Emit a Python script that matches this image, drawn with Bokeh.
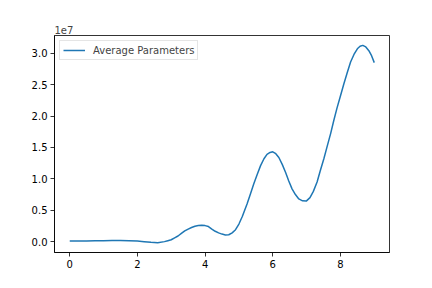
from bokeh.plotting import figure
from bokeh.models import Range1d, FixedTicker, CustomJSTickFormatter, Legend, LegendItem
from bokeh.embed import file_html
from bokeh.resources import INLINE

SCALE = 1e7
x_vals = [0.0, 0.25, 0.5, 0.75, 1.0, 1.25, 1.5, 1.75, 2.0, 2.2, 2.4, 2.6, 2.8, 2.9,
          3.0, 3.1, 3.2, 3.3, 3.4, 3.5, 3.6, 3.7, 3.8, 3.9,
          4.0, 4.1, 4.2, 4.3, 4.4, 4.5, 4.6, 4.7, 4.8, 4.9,
          5.0, 5.1, 5.24, 5.34, 5.44, 5.54, 5.64, 5.74, 5.83, 5.92,
          6.0, 6.09, 6.18, 6.28, 6.38, 6.47, 6.57, 6.67, 6.77, 6.88,
          6.99, 7.1, 7.2, 7.31, 7.4, 7.51, 7.6, 7.71, 7.8, 7.9,
          8.0, 8.1, 8.2, 8.3, 8.4, 8.5, 8.58, 8.66, 8.75, 8.84, 8.92, 9.0]
y_vals = [0.011, 0.011, 0.012, 0.014, 0.016, 0.018, 0.019, 0.016, 0.010, 0.000,
          -0.011, -0.016, 0.000, 0.015,
          0.03, 0.06, 0.09, 0.13, 0.17, 0.20, 0.225, 0.245, 0.257, 0.26,
          0.255, 0.24, 0.20, 0.165, 0.14, 0.12, 0.107, 0.11, 0.14, 0.19,
          0.28, 0.40, 0.60, 0.76, 0.92, 1.07, 1.21, 1.32, 1.39, 1.42,
          1.43, 1.40, 1.34, 1.23, 1.10, 0.97, 0.84, 0.75, 0.68, 0.65,
          0.645, 0.70, 0.80, 0.95, 1.12, 1.32, 1.50, 1.72, 1.92, 2.13,
          2.32, 2.51, 2.69, 2.86, 2.98, 3.07, 3.11, 3.125, 3.10, 3.04, 2.96, 2.85]
x_ticks = [0, 2, 4, 6, 8]
y_ticks = [0.0, 0.5, 1.0, 1.5, 2.0, 2.5, 3.0]
series_label = "Average Parameters"

ys = [v * SCALE for v in y_vals]

def padded(lo, hi, frac=0.05):
    d = (hi - lo) * frac
    return lo - d, hi + d

x0, x1 = padded(min(x_vals), max(x_vals))
y0, y1 = padded(min(ys), max(ys))

p = figure(width=424, height=280, output_backend="svg", toolbar_location=None,
           x_range=Range1d(x0, x1), y_range=Range1d(y0, y1),
           min_border_left=54, min_border_right=35, min_border_top=35, min_border_bottom=28)
p.grid.visible = False
p.outline_line_color = "black"
p.outline_line_width = 0.8
p.background_fill_color = "white"
p.border_fill_color = "white"

r = p.line(x_vals, ys, line_color="#1f77b4", line_width=1.5)

FONT = "DejaVu Sans"
for ax in (p.xaxis[0], p.yaxis[0]):
    ax.axis_line_color = "black"
    ax.axis_line_width = 0.8
    ax.major_tick_line_color = "black"
    ax.major_tick_line_width = 0.8
    ax.major_tick_out = 4
    ax.major_tick_in = 0
    ax.minor_tick_line_color = None
    ax.major_label_text_font = FONT
    ax.major_label_text_font_size = "10px"
    ax.major_label_text_color = "black"
    ax.major_label_standoff = 3

p.xaxis.ticker = FixedTicker(ticks=x_ticks)
p.yaxis.ticker = FixedTicker(ticks=[t * SCALE for t in y_ticks])
p.yaxis.formatter = CustomJSTickFormatter(code="return (tick/1e7).toFixed(1);")

p.title.text = "1e7"
p.title.text_font = FONT
p.title.text_font_size = "10px"
p.title.text_font_style = "normal"
p.title.align = "left"
p.title.offset = 0
p.title.standoff = 4

legend = Legend(items=[LegendItem(label=series_label, renderers=[r])],
                location="top_left")
legend.label_text_font = FONT
legend.label_text_font_size = "10px"
legend.border_line_color = "#cccccc"
legend.border_line_width = 1
legend.background_fill_alpha = 0.8
legend.margin = 5
legend.padding = 3
legend.glyph_width = 22
legend.glyph_height = 12
legend.label_height = 12
legend.label_standoff = 8
legend.spacing = 0
p.add_layout(legend)

open("out.html", "w").write(file_html(p, INLINE))
